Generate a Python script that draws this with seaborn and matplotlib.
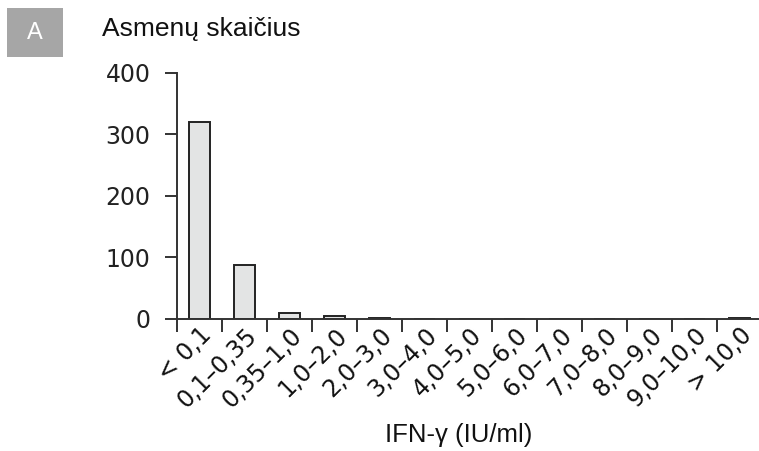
import matplotlib
matplotlib.use("Agg")
import matplotlib.pyplot as plt
import seaborn as sns
import pandas as pd
from matplotlib.patches import Rectangle

categories = ["< 0,1", "0,1–0,35", "0,35–1,0", "1,0–2,0", "2,0–3,0", "3,0–4,0",
              "4,0–5,0", "5,0–6,0", "6,0–7,0", "7,0–8,0", "8,0–9,0", "9,0–10,0", "> 10,0"]
counts = [320, 88, 10, 5, 2, 0, 0, 0, 0, 0, 0, 0, 1]
y_ticks = [0, 100, 200, 300, 400]

df = pd.DataFrame({"cat": categories, "n": counts})

sns.set_theme(style="white")
plt.rcParams['font.family'] = ['Liberation Sans', 'DejaVu Sans']

fig = plt.figure(figsize=(7.59, 4.51), dpi=100)
ax = fig.add_axes([0.2332, 0.2927, 0.771, 0.5455])

sns.barplot(data=df, x="cat", y="n", ax=ax, color="#e3e4e4",
            edgecolor="#222222", linewidth=1.4, width=0.47, saturation=1)

ax.set_xlim(-0.5, 12.5)
ax.set_ylim(0, 400)
ax.set_yticks(y_ticks)
ax.set_yticklabels([str(v) for v in y_ticks], fontsize=17, fontfamily='DejaVu Sans', color="#222222")

ax.set_xticks([i + 0.5 for i in range(-1, 13)], minor=False)
ax.set_xticklabels([])
ax.set_xticks(range(13), minor=True)
ax.set_xticklabels(categories, minor=True, rotation=45, ha='right',
                   rotation_mode='anchor', fontsize=17, fontfamily='DejaVu Sans', color="#111111")
ax.tick_params(axis='x', which='minor', length=0, pad=3)
ax.tick_params(axis='x', which='major', length=9, width=1.4, color="#333333", direction='out', bottom=True)
ax.tick_params(axis='y', length=9, width=1.4, color="#333333", direction='out', left=True, pad=10)

for s in ['top', 'right']:
    ax.spines[s].set_visible(False)
for s in ['left', 'bottom']:
    ax.spines[s].set_linewidth(1.4)
    ax.spines[s].set_color("#333333")

ax.set_xlabel("IFN-γ (IU/ml)", fontsize=18.5, color="#111111", va='center')
ax.xaxis.set_label_coords(0.482, -0.472)
ax.set_ylabel("")

fig.text(102/759, 1 - 36/451, "Asmenų skaičius", fontsize=19, ha='left', va='baseline', color="#111111")
fig.patches.append(Rectangle((7/759, 1 - 57/451), 56/759, 49/451, transform=fig.transFigure,
                             facecolor="#a6a6a6", edgecolor='none'))
fig.text(35/759, 1 - 33/451, "A", fontsize=17, ha='center', va='center', color="white")

fig.savefig("out.png", dpi=100)
